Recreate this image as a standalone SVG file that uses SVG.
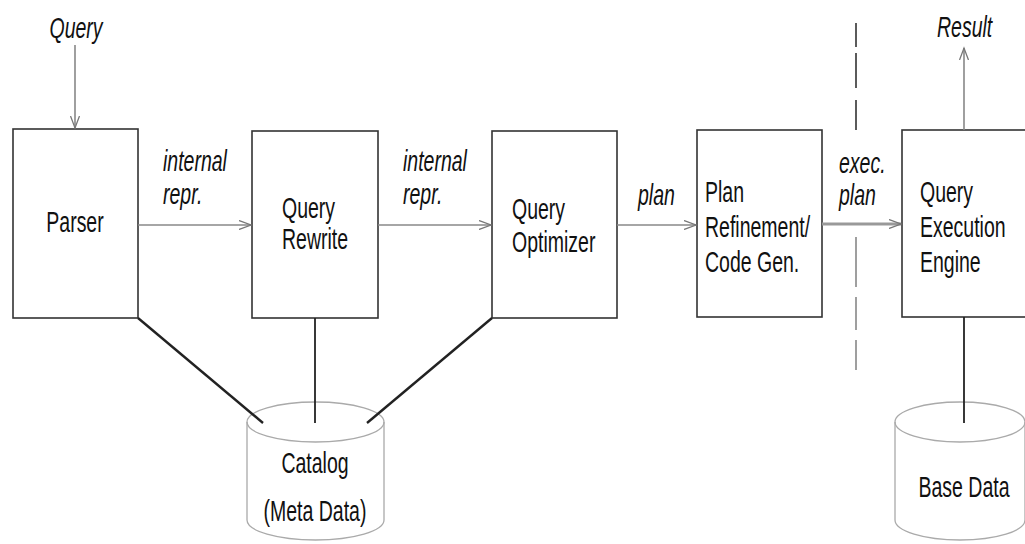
<svg xmlns="http://www.w3.org/2000/svg" width="1025" height="544" viewBox="0 0 1025 544">
<style>
.box{fill:#fff;stroke:#333;stroke-width:1.6}
.cyl{fill:#fff;stroke:#aaa;stroke-width:1.3}
.arr{fill:none;stroke:#888;stroke-width:1.6;marker-end:url(#ah)}
.db{fill:none;stroke:#222;stroke-width:2.4}
.dash{fill:none;stroke:#333;stroke-width:1.6}
.t{font-family:"Liberation Sans",Arial,sans-serif;font-size:19.5px;fill:#111}
.i{font-style:italic}
.m{text-anchor:middle}
</style>
<defs>
<marker id="ah" markerUnits="userSpaceOnUse" markerWidth="14" markerHeight="10" refX="12" refY="5" orient="auto">
<path d="M0,0.5 L12,5 L0,9.5" fill="none" stroke="#777" stroke-width="1.3"/>
</marker>
</defs>
<rect width="1025" height="544" fill="#fff"/>
<g id="parser">
<rect class="box" x="13" y="129" width="125" height="189"/>
<text class="t m" transform="translate(75,232) scale(1,1.55)">Parser</text>
</g>
<g id="rewrite">
<rect class="box" x="252" y="131" width="126" height="187"/>
<text class="t" transform="translate(282,218) scale(1,1.55)"><tspan x="0" y="0">Query</tspan><tspan x="0" y="20">Rewrite</tspan></text>
</g>
<g id="optimizer">
<rect class="box" x="492" y="131" width="125" height="187"/>
<text class="t" transform="translate(512,219) scale(1,1.55)"><tspan x="0" y="0">Query</tspan><tspan x="0" y="21.5">Optimizer</tspan></text>
</g>
<g id="refinement">
<rect class="box" x="697" y="130" width="125" height="187"/>
<text class="t" transform="translate(705,202) scale(1,1.55)"><tspan x="0" y="0">Plan</tspan><tspan x="0" y="22.5">Refinement/</tspan><tspan x="0" y="45">Code Gen.</tspan></text>
</g>
<g id="engine">
<rect class="box" x="902" y="130" width="140" height="187"/>
<text class="t" transform="translate(920,202) scale(1,1.55)"><tspan x="0" y="0">Query</tspan><tspan x="0" y="22.5">Execution</tspan><tspan x="0" y="45">Engine</tspan></text>
</g>
<g id="catalog">
<path class="cyl" d="M247,422 V520 A68.5,20 0 0 0 384,520 V422"/>
<ellipse class="cyl" cx="315.5" cy="422" rx="68.5" ry="20" style="fill:none"/>
<text class="t m" transform="translate(315,473) scale(1,1.55)"><tspan x="0" y="0">Catalog</tspan><tspan x="0" y="31">(Meta Data)</tspan></text>
</g>
<g id="basedata">
<path class="cyl" d="M895,422 V520 A65,20 0 0 0 1025,520 V422"/>
<ellipse class="cyl" cx="960" cy="422" rx="65" ry="20" style="fill:none"/>
<text class="t m" transform="translate(964,497) scale(1,1.55)">Base Data</text>
</g>
<g id="connectors">
<path class="arr" d="M75,45 V128"/>
<path class="arr" d="M138,225 H251"/>
<path class="arr" d="M378,225 H491"/>
<path class="arr" d="M617,225 H696"/>
<path class="arr" style="stroke-width:3;stroke:#999" d="M822,224 H901"/>
<path class="arr" d="M964,130 V48"/>
<path class="db" d="M138,318 L263,423"/>
<path class="db" style="stroke-width:1.8" d="M315,318 V423"/>
<path class="db" d="M492,318 L367,423"/>
<path class="db" style="stroke-width:1.8" d="M964,317 V423"/>
<path class="dash" d="M856,23 V47 M856,53 V88 M856,100 V130"/>
<path class="dash" style="stroke:#888" d="M856,237 V287 M856,297 V330 M856,340 V370"/>
</g>
<g id="labels">
<text class="t i m" transform="translate(76,38) scale(1,1.55)">Query</text>
<text class="t i" transform="translate(163,171) scale(1,1.55)"><tspan x="0" y="0">internal</tspan><tspan x="0" y="21.5">repr.</tspan></text>
<text class="t i" transform="translate(403,171) scale(1,1.55)"><tspan x="0" y="0">internal</tspan><tspan x="0" y="21.5">repr.</tspan></text>
<text class="t i" transform="translate(638,205) scale(1,1.55)">plan</text>
<text class="t i" transform="translate(839,173) scale(1,1.55)"><tspan x="0" y="0">exec.</tspan><tspan x="0" y="20.5">plan</tspan></text>
<text class="t i" transform="translate(937,37) scale(1,1.55)">Result</text>
</g>
</svg>
